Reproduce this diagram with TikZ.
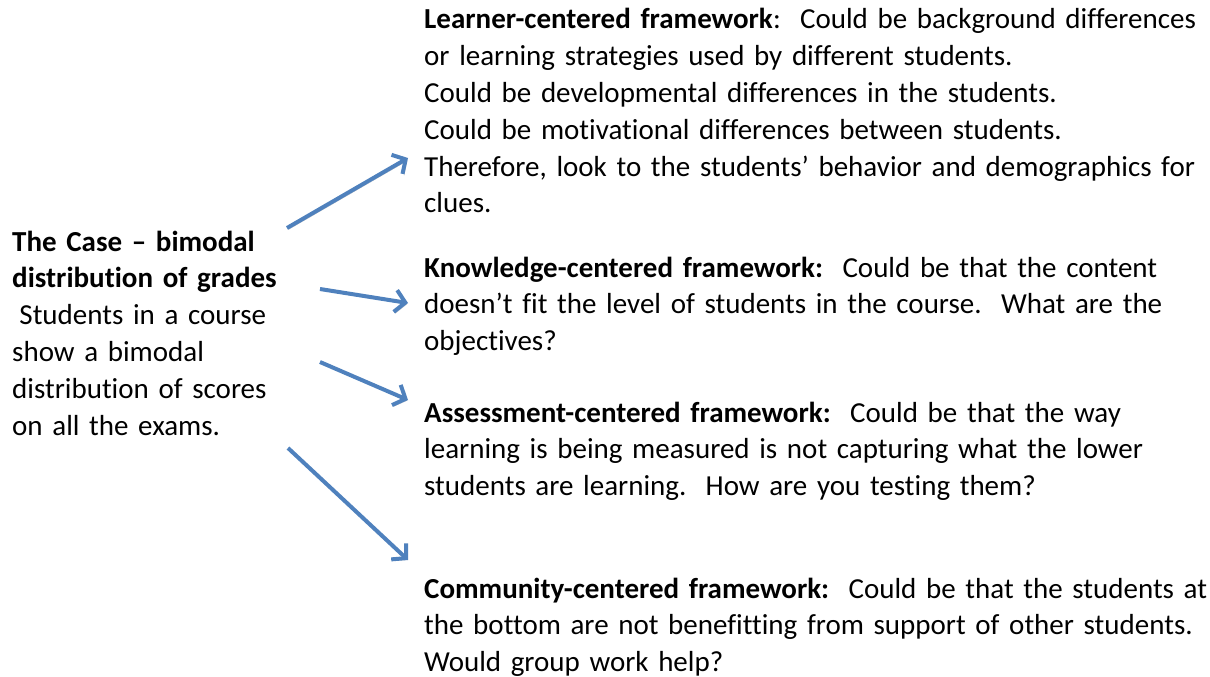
\documentclass[tikz,border=0pt]{standalone}
\usepackage{fontspec}
\setmainfont{Carlito}[Ligatures=NoCommon]
\usetikzlibrary{arrows.meta, positioning}
\definecolor{arrowblue}{RGB}{79,129,189}

\begin{document}
\begin{tikzpicture}[x=1pt, y=-1pt, txt/.style={inner sep=0pt, align=left, anchor=base west, text width=#1, font=\fontsize{29}{36.8}\selectfont}, txt/.default=790pt, arrow/.style={-{Straight Barb[length=10pt, width=22pt]}, line width=4pt, arrowblue, preaction={draw=black!25, transform canvas={shift={(1.5pt,-1.5pt)}}}}]
\useasboundingbox (0,0) rectangle (1210,677);

\node[txt=300pt] (case) at (12,251) {\textbf{The Case – bimodal}\\\textbf{distribution of grades}\\\hspace*{0.25em}Students in a course\\show a bimodal\\distribution of scores\\on all the exams.};

\node[txt] (learner) at (424,29) {\textbf{Learner-centered framework}:\ \ Could be background differences\\or learning strategies used by different students.\\Could be developmental differences in the students.\\Could be motivational differences between students.\\Therefore, look to the students’ behavior and demographics for\\clues.};
\node[txt] (knowledge) at (424,277) {\textbf{Knowledge-centered framework:}\ \ Could be that the content\\doesn’t fit the level of students in the course.\ \ What are the\\objectives?};
\node[txt] (assessment) at (424,422) {\textbf{Assessment-centered framework:}\ \ Could be that the way\\learning is being measured is not capturing what the lower\\students are learning.\ \ How are you testing them?};
\node[txt] (community) at (424,598) {\textbf{Community-centered framework:}\ \ Could be that the students at\\the bottom are not benefitting from support of other students.\\Would group work help?};

% arrow ends
\coordinate (caseA) at (287,228); \coordinate (learnerIn) at (408,158);
\coordinate (caseB) at (320,289); \coordinate (knowledgeIn) at (408,303);
\coordinate (caseC) at (320,362); \coordinate (assessmentIn) at (408,400);
\coordinate (caseD) at (288,448); \coordinate (communityIn) at (408,560);
\draw[arrow] (caseA) -- (learnerIn);
\draw[arrow] (caseB) -- (knowledgeIn);
\draw[arrow] (caseC) -- (assessmentIn);
\draw[arrow] (caseD) -- (communityIn);

\end{tikzpicture}
\end{document}
